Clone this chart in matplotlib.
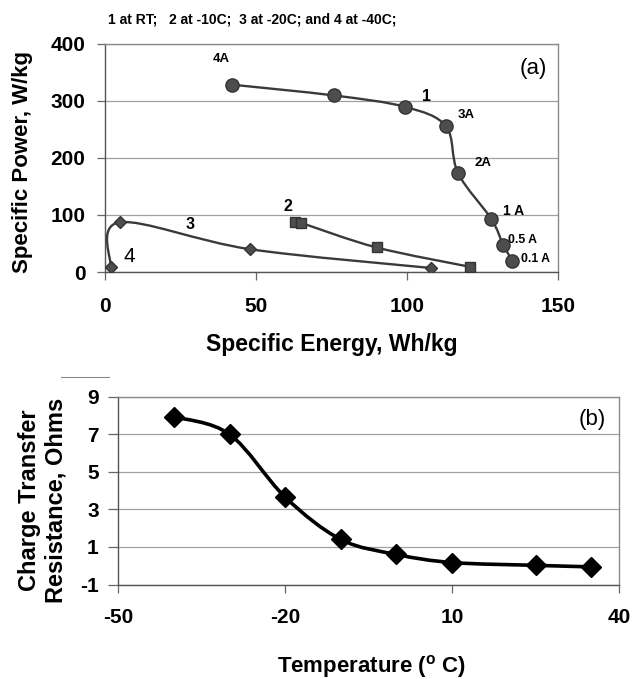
import numpy as np
import matplotlib
matplotlib.use("Agg")
import matplotlib.pyplot as plt
from matplotlib.path import Path
from matplotlib.patches import PathPatch
from matplotlib.lines import Line2D

plt.rcParams['font.family'] = ['Liberation Sans', 'DejaVu Sans']
plt.rcParams['axes.unicode_minus'] = False

# (a) Ragone-Daten
e_rt = [42, 76, 99.5, 113, 117, 128, 132, 135]
p_rt = [328, 309, 289, 255, 173, 93, 47, 20]
e_m10 = [63, 65, 90, 121]
p_m10 = [88, 86, 43, 9]
e_m20 = [2, 5, 48, 108]
p_m20 = [8, 87, 40, 7]

rate_labels = ['4A', '3A', '2A', '1 A', '0.5 A', '0.1 A']
rate_label_x = [38.5, 119.6, 125.4, 135.3, 138.5, 142.8]
rate_label_y = [373, 275, 191, 106, 56, 23]
rate_label_size = [9.5, 9.5, 9.5, 10, 8.8, 8.8]

# (b) Ladungsdurchtrittswiderstand
temp = [-40, -30, -20, -10, 0, 10, 25, 35]
r_ct = [7.93, 7.0, 3.65, 1.4, 0.6, 0.17, 0.02, -0.06]

x_ticks_a = [0, 50, 100, 150]
y_ticks_a = [0, 100, 200, 300, 400]
x_ticks_b = [-50, -20, 10, 40]
y_ticks_b = [-1, 1, 3, 5, 7, 9]


def smooth_path(x, y):
    # Excel-artige Glaettung (Catmull-Rom als Bezier)
    pts = np.column_stack([x, y]).astype(float)
    n = len(pts)
    verts = [pts[0]]
    codes = [Path.MOVETO]
    for i in range(n - 1):
        p0 = pts[i - 1] if i > 0 else pts[i]
        p1 = pts[i]
        p2 = pts[i + 1]
        p3 = pts[i + 2] if i + 2 < n else pts[i + 1]
        verts += [p1 + (p2 - p0) / 6, p2 - (p3 - p1) / 6, p2]
        codes += [Path.CURVE4] * 3
    return Path(verts, codes)


def style_axes(ax, ticksize):
    ax.grid(axis='y', color='#a0a0a0', lw=0.9)
    ax.set_axisbelow(True)
    for s in ['top', 'right']:
        ax.spines[s].set_color('#8a8a8a')
        ax.spines[s].set_linewidth(1.0)
    for s in ['left', 'bottom']:
        ax.spines[s].set_color('#555555')
        ax.spines[s].set_linewidth(1.0)
    ax.tick_params(direction='out', length=6, width=0.9, color='#666666',
                   labelsize=ticksize)
    for lab in ax.get_xticklabels() + ax.get_yticklabels():
        lab.set_fontweight('bold')


fig = plt.figure(figsize=(6.32, 6.79), dpi=100)
W, H = 632, 679

# ---- Panel (a)
ax1 = fig.add_axes([104.7 / W, 1 - 272 / H, 453 / W, 228.5 / H])
ax1.set_xlim(0, 150)
ax1.set_ylim(0, 400)
ax1.set_xticks(x_ticks_a)
ax1.set_yticks(y_ticks_a)
style_axes(ax1, 15)
ax1.tick_params(axis='x', pad=12)
ax1.tick_params(axis='y', pad=8)

line_col = '#3a3a3a'
mk_col = '#4d4d4d'
for ex, px in [(e_rt, p_rt), (e_m10, p_m10), (e_m20, p_m20)]:
    ax1.add_patch(PathPatch(smooth_path(ex, px), fill=False, ec=line_col, lw=1.7, zorder=3))
ax1.plot(e_rt, p_rt, ls='none', marker='o', ms=9.5, mfc=mk_col, mec='#333333', zorder=4)
ax1.plot(e_m10, p_m10, ls='none', marker='s', ms=7, mfc=mk_col, mec='#333333', zorder=4)
ax1.plot(e_m20, p_m20, ls='none', marker='D', ms=6.5, mfc=mk_col, mec='#333333', zorder=4)

for t, x, y, s in zip(rate_labels, rate_label_x, rate_label_y, rate_label_size):
    ax1.text(x, y, t, fontsize=s, fontweight='bold', ha='center', va='center')
ax1.text(106.7, 307, '1', fontsize=11.5, fontweight='bold', ha='center', va='center')
ax1.text(60.7, 114, '2', fontsize=11.5, fontweight='bold', ha='center', va='center')
ax1.text(28.3, 84, '3', fontsize=11.5, fontweight='bold', ha='center', va='center')
ax1.text(8.3, 28, '4', fontsize=15, ha='center', va='center')
ax1.text(141.9, 357, '(a)', fontsize=16, ha='center', va='center')

fig.text(108 / W, 1 - 19 / H, '1 at RT;   2 at -10C;  3 at -20C; and 4 at -40C;',
         fontsize=10, fontweight='bold', ha='left', va='center')
fig.text(23 / W, 1 - 162 / H, 'Specific Power, W/kg', rotation=90, fontsize=16,
         fontweight='bold', ha='center', va='center')
fig.text(332 / W, 1 - 345 / H, 'Specific Energy, Wh/kg', fontsize=16.5,
         fontweight='bold', ha='center', va='center')

# ---- Panel (b)
ax2 = fig.add_axes([118.3 / W, 1 - 584.5 / H, 500.7 / W, 187.8 / H])
ax2.set_xlim(-50, 40)
ax2.set_ylim(-1, 9)
ax2.set_xticks(x_ticks_b)
ax2.set_yticks(y_ticks_b)
style_axes(ax2, 15)
ax2.tick_params(axis='x', pad=11)
ax2.tick_params(axis='y', length=7, pad=7)

ax2.add_patch(PathPatch(smooth_path(temp, r_ct), fill=False, ec='black', lw=2.6, zorder=3))
ax2.plot(temp, r_ct, ls='none', marker='D', ms=10, mfc='black', mec='black', zorder=4)
ax2.text(35.2, 7.78, '(b)', fontsize=16, ha='center', va='center')

fig.text(43 / W, 1 - 500 / H, 'Charge Transfer\nResistance, Ohms', rotation=90,
         fontsize=17, fontweight='bold', ha='center', va='center', linespacing=1.2)
fig.text(372 / W, 1 - 667 / H, r'Temperature ($\mathregular{^o}$ C)', fontsize=16,
         fontweight='bold', ha='center', va='center')

fig.add_artist(Line2D([61 / W, 109 / W], [1 - 377 / H, 1 - 377 / H],
                      color='#888888', lw=0.8))

fig.savefig('out.png', dpi=100)
